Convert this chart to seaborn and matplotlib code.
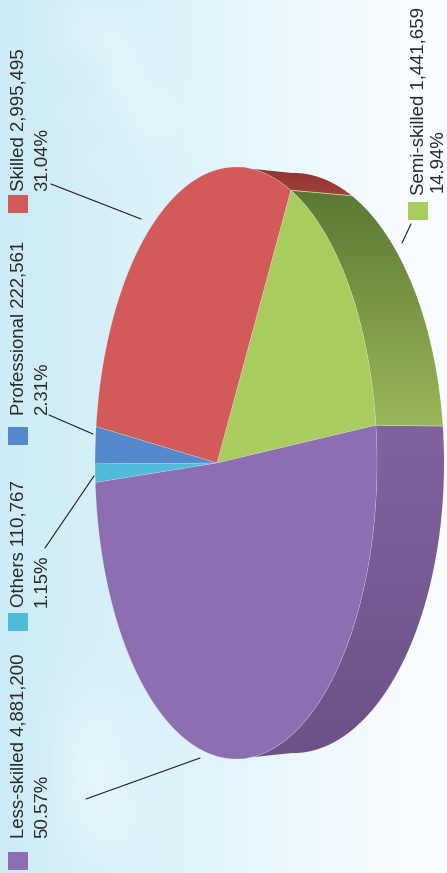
import numpy as np
import matplotlib
matplotlib.use("Agg")
import matplotlib.pyplot as plt
from matplotlib.patches import Polygon, Rectangle
from matplotlib.colors import LinearSegmentedColormap
import seaborn as sns

categories = ["Semi-skilled", "Skilled", "Professional", "Others", "Less-skilled"]
workers = [1441659, 2995495, 222561, 110767, 4881200]
percents = ["14.94%", "31.04%", "2.31%", "1.15%", "50.57%"]
count_labels = ["1,441,659", "2,995,495", "222,561", "110,767", "4,881,200"]
top_colors = ["#a9cc5e", "#d25a58", "#5489cb", "#4ebbd9", "#8e6eb2"]
wall_tops = ["#5c7733", "#8b3431", "#3d6aa0", "#3a92aa", "#80639f"]
wall_bottoms = ["#9ab85a", "#a5413d", "#3d6aa0", "#3a92aa", "#6c5288"]

sns.set_theme(style="white")
plt.rcParams["font.family"] = ["Liberation Sans", "DejaVu Sans"]
palette = sns.color_palette(top_colors)

W, H = 447, 873
fig = plt.figure(figsize=(W / 100, H / 100), dpi=100)
ax = fig.add_axes([0, 0, 1, 1])

# sky background
yy, xx = np.mgrid[0:H, 0:W]
sky = np.clip(xx / 400.0, 0, 1)
def blob(cx, cy, sx, sy, a):
    return a * np.exp(-((xx - cx) / sx) ** 2 - ((yy - cy) / sy) ** 2)
clouds = [(88, 28, 34, 30, 0.22), (122, 70, 22, 36, 0.22), (150, 115, 22, 30, 0.16),
          (85, 110, 30, 12, 0.06), (100, 158, 20, 14, 0.06),
          (88, 750, 38, 70, 0.30), (100, 825, 48, 55, 0.18)]
for c in clouds:
    sky = sky + blob(*c)
sky = np.clip(sky, 0, 1)
sky_cmap = LinearSegmentedColormap.from_list("sky", ["#cdecf7", "#dff4fb", "#f8fcff"])
ax.imshow(sky, cmap=sky_cmap, vmin=0, vmax=1, extent=(0, W, H, 0), aspect="auto", zorder=0)

# tilted pie: unit circle through a perspective map
CX, CY = 217.0, 463.0
A, C, D = 109.2, -0.1348, 293.3
START = 6.4
def face(deg):
    r = np.radians(deg)
    w = 1 + C * np.cos(r)
    return (A * np.cos(r) + CX) / w, CY - D * np.sin(r) / w
def back(deg):
    x, y = face(deg)
    return 444 + 1.07 * (x - 377), CY + 0.98 * (y - CY)

fractions = np.array(workers, dtype=float) / np.sum(workers)
edges = START + 360 * np.concatenate([[0], np.cumsum(fractions)])

wall_cmap = lambda a, b: LinearSegmentedColormap.from_list("w", [a, b])
wall_extents = [(190, 428), (165, 200), (0, 1), (0, 1), (425, 760)]
for i in [1, 0, 4]:
    th = np.linspace(edges[i], edges[i + 1], 360)
    if i == 1:
        th = th[th < 83]
    if i == 4:
        th = th[th > 277]
    fx, fy = face(th)
    bx, by = back(th)
    poly = Polygon(np.c_[np.r_[fx, bx[::-1]], np.r_[fy, by[::-1]]], closed=True,
                   facecolor="none", edgecolor="none", transform=ax.transData)
    ax.add_patch(poly)
    y0, y1 = wall_extents[i]
    grad = np.linspace(0, 1, 256)[:, None]
    im = ax.imshow(grad, cmap=wall_cmap(wall_tops[i], wall_bottoms[i]), extent=(0, W, y1, y0),
                   aspect="auto", zorder=2)
    im.set_clip_path(poly)

for i in range(len(workers)):
    th = np.linspace(edges[i], edges[i + 1], 240)
    fx, fy = face(th)
    ax.add_patch(Polygon(np.c_[np.r_[CX, fx], np.r_[CY, fy]], closed=True, facecolor=palette[i],
                         edgecolor=(1, 1, 1, 0.45), linewidth=0.3, zorder=3))

# divider highlights on the walls
for deg in [edges[0], edges[1]]:
    fx, fy = face(deg)
    bx, by = back(deg)
    ax.plot([fx, bx], [fy, by], color="#c9d8a0", linewidth=0.6, zorder=3)

ax.set_xlim(0, W)
ax.set_ylim(H, 0)
ax.axis("off")

# legends: name + count, percent, swatch
label_pos = {
    "Semi-skilled": (423, 443, 195, 192, 408, 202),
    "Skilled": (24, 47, 191, 191, 8, 195),
    "Professional": (24, 47, 415, 415, 8, 427),
    "Others": (24, 47, 607, 607, 8, 613),
    "Less-skilled": (24, 47, 838, 838, 8, 852),
}
for name, cnt, pct, col in zip(categories, count_labels, percents, palette):
    x1, x2, y1, y2, sx, sy = label_pos[name]
    ax.text(x1, y1, f"{name} {cnt}", rotation=90, rotation_mode="anchor", ha="left", va="baseline",
            fontsize=13.4, color="#2b2829", zorder=5)
    ax.text(x2, y2, pct, rotation=90, rotation_mode="anchor", ha="left", va="baseline",
            fontsize=13.4, color="#2b2829", zorder=5)
    ax.add_patch(Rectangle((sx, sy), 20, 18, facecolor=col, edgecolor="none", zorder=5))

leaders = [((51, 184), (141, 219)), ((402, 243), (411, 224)), ((49, 415), (93, 434)),
           ((45, 548), (94, 476)), ((86, 799), (200, 758))]
for p, q in leaders:
    ax.plot([p[0], q[0]], [p[1], q[1]], color="#231f20", linewidth=0.8, zorder=5)

sns.despine(ax=ax, left=True, bottom=True)
fig.savefig("out.png", dpi=100)
